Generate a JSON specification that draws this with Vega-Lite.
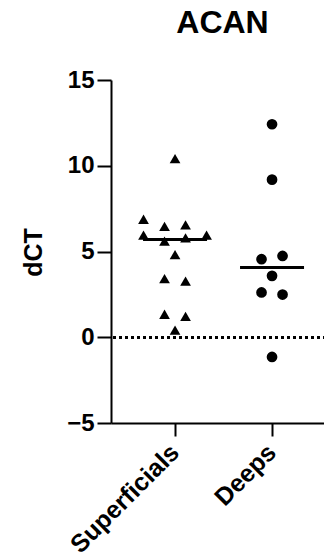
{
  "$schema": "https://vega.github.io/schema/vega-lite/v6.json",
  "autosize": {"type": "none"},
  "padding": {"left": 111, "top": 80, "right": 0, "bottom": 137},
  "width": 213,
  "height": 343,
  "background": "white",
  "title": {"text": "ACAN", "fontSize": 32, "font": "Liberation Sans", "fontWeight": "bold", "offset": 28, "anchor": "middle", "dx": 5},
  "config": {"view": {"stroke": null}, "font": "Liberation Sans"},
  "data": {"values": [
    {"group": "Superficials", "value": 10.42, "slot": 0},
    {"group": "Superficials", "value": 6.88, "slot": -3},
    {"group": "Superficials", "value": 6.47, "slot": -1},
    {"group": "Superficials", "value": 6.55, "slot": 1},
    {"group": "Superficials", "value": 5.95, "slot": -3},
    {"group": "Superficials", "value": 5.95, "slot": 3},
    {"group": "Superficials", "value": 5.6, "slot": -1},
    {"group": "Superficials", "value": 5.79, "slot": 1},
    {"group": "Superficials", "value": 4.82, "slot": 0},
    {"group": "Superficials", "value": 3.42, "slot": -1},
    {"group": "Superficials", "value": 3.27, "slot": 1},
    {"group": "Superficials", "value": 1.34, "slot": -1},
    {"group": "Superficials", "value": 1.22, "slot": 1},
    {"group": "Superficials", "value": 0.41, "slot": 0},
    {"group": "Deeps", "value": 12.42, "slot": 0},
    {"group": "Deeps", "value": 9.19, "slot": 0},
    {"group": "Deeps", "value": 4.55, "slot": -1},
    {"group": "Deeps", "value": 4.74, "slot": 1},
    {"group": "Deeps", "value": 3.58, "slot": 0},
    {"group": "Deeps", "value": 2.61, "slot": -1},
    {"group": "Deeps", "value": 2.49, "slot": 1},
    {"group": "Deeps", "value": -1.15, "slot": 0}
  ]},
  "encoding": {
    "x": {
      "field": "group", "type": "nominal", "sort": ["Superficials", "Deeps"],
      "scale": {"domain": ["Superficials", "Deeps"], "paddingInner": 0.35, "paddingOuter": 0.273, "align": 0.614},
      "axis": {
        "title": null, "labelAngle": -45, "labelAlign": "right", "labelBaseline": "middle",
        "labelFontSize": 25, "labelFontWeight": "bold", "labelColor": "black", "labelPadding": 12,
        "domainColor": "black", "domainWidth": 2, "tickColor": "black", "tickWidth": 2, "tickSize": 13
      }
    },
    "y": {
      "field": "value", "type": "quantitative",
      "scale": {"domain": [-5, 15], "nice": false, "zero": false},
      "axis": {
        "title": "dCT", "titleFontSize": 25, "titleFontWeight": "bold", "titleColor": "black",
        "titleX": -78, "titleY": 172, "titleAlign": "center", "titleBaseline": "middle", "titleAngle": -90,
        "values": [-5, 0, 5, 10, 15], "grid": false,
        "labelFontSize": 24, "labelFontWeight": "bold", "labelColor": "black", "labelPadding": 3,
        "domainColor": "black", "domainWidth": 2, "tickColor": "black", "tickWidth": 2, "tickSize": 14
      }
    }
  },
  "layer": [
    {
      "mark": {"type": "rule", "strokeDash": [3, 3], "strokeWidth": 2, "color": "black"},
      "encoding": {"y": {"datum": 0}, "x": {"value": 2}, "x2": {"value": 213}}
    },
    {
      "mark": {"type": "point", "filled": true, "opacity": 1, "color": "black", "size": 115},
      "encoding": {
        "xOffset": {"field": "slot", "type": "nominal", "scale": {"domain": [-3, -2, -1, 0, 1, 2, 3], "paddingInner": 0, "paddingOuter": 0}},
        "shape": {"field": "group", "type": "nominal", "scale": {"domain": ["Superficials", "Deeps"], "range": ["triangle-up", "circle"]}, "legend": null}
      }
    },
    {
      "mark": {"type": "tick", "color": "black", "thickness": 3, "size": 64, "opacity": 1},
      "encoding": {"y": {"aggregate": "median", "field": "value", "type": "quantitative"}}
    }
  ]
}
